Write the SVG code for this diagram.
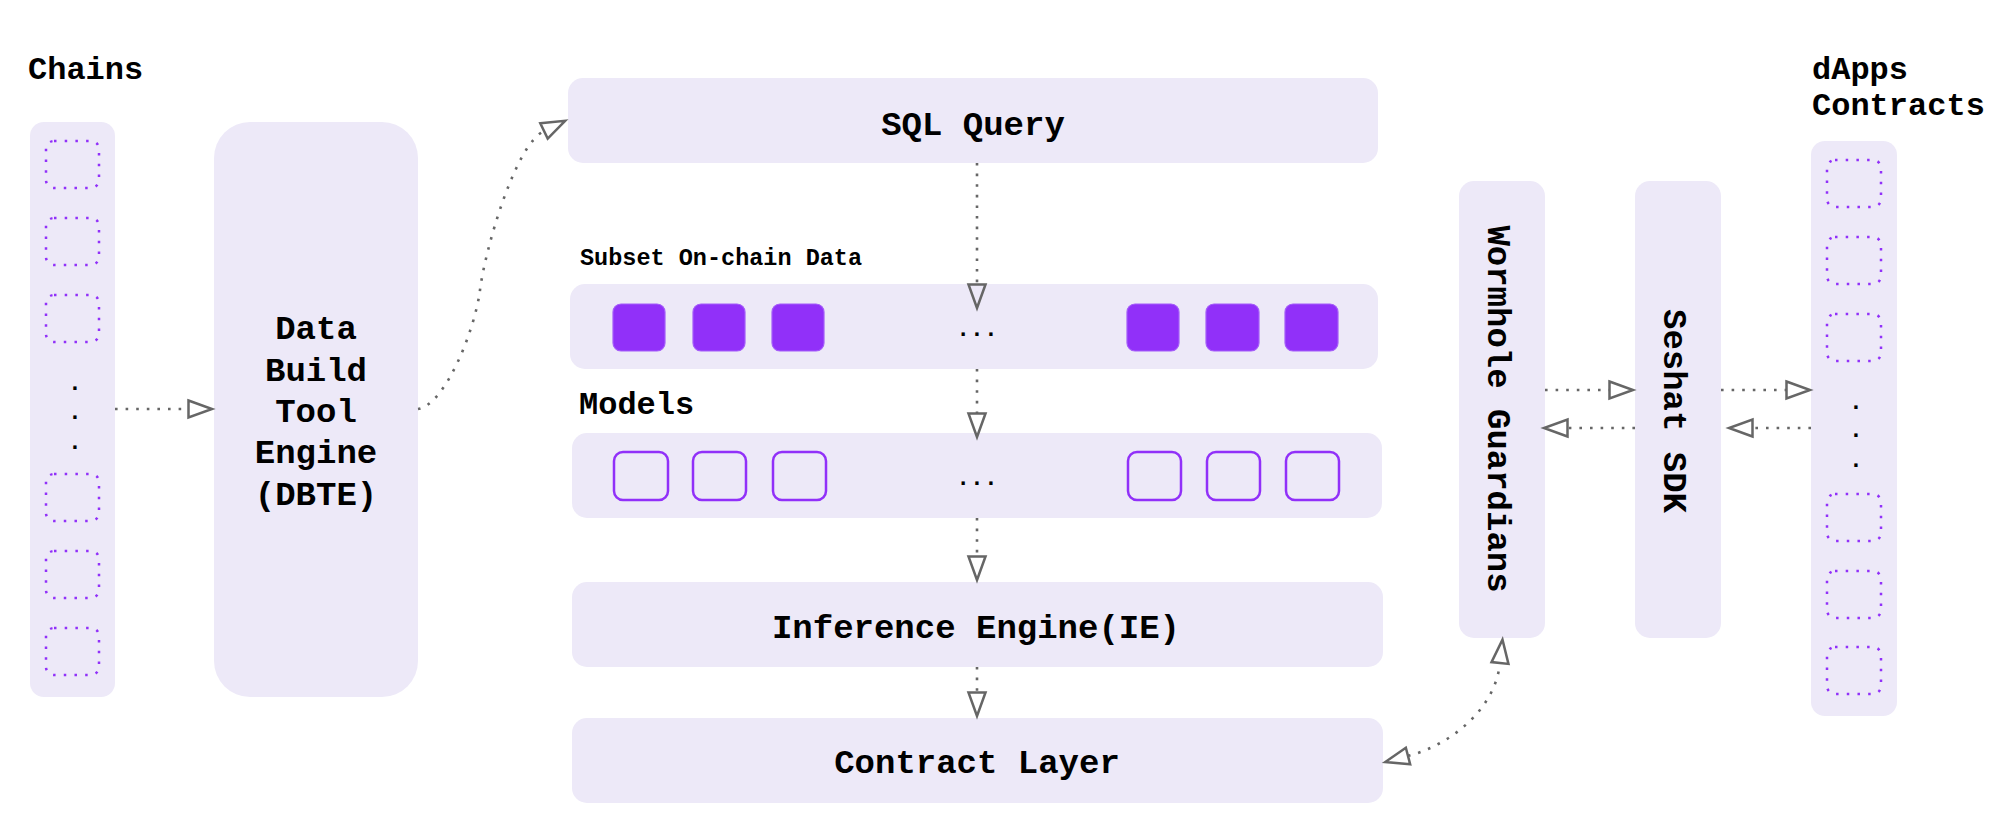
<svg xmlns="http://www.w3.org/2000/svg" width="2010" height="837" viewBox="0 0 2010 837">
<defs>
<style>
.panel{fill:#EDE9F8;}
.lbl{font-family:"Liberation Mono","Courier New",monospace;font-weight:bold;fill:#000;}
.ctr{text-anchor:middle;}
.dsq{fill:none;stroke:#9130F9;stroke-width:2.5;stroke-dasharray:2.5 8.2;}
.fsq{fill:#9130F9;stroke:#A45CF9;stroke-width:1.2;}
.osq{fill:none;stroke:#9130F9;stroke-width:2.5;}
.conn{fill:none;stroke:#666;stroke-width:2.6;stroke-dasharray:2.6 8;}
.dot{font-family:"Liberation Mono","Courier New",monospace;font-size:23px;font-weight:bold;text-anchor:middle;fill:#000;}
</style>
<marker id="arr" markerUnits="userSpaceOnUse" markerWidth="30" markerHeight="24" refX="1.5" refY="10" orient="auto-start-reverse" overflow="visible">
<path d="M1.5,1.5 L25,10 L1.5,18.5 Z" fill="none" stroke="#666" stroke-width="2.5"/>
</marker>
</defs>
<rect width="2010" height="837" fill="#fff"/>

<g id="chains">
<text class="lbl" x="28" y="79" font-size="32">Chains</text>
<rect class="panel" x="30" y="122" width="85" height="575" rx="14"/>
<rect class="dsq" x="46" y="141" width="53" height="47" rx="8"/>
<rect class="dsq" x="46" y="218" width="53" height="47" rx="8"/>
<rect class="dsq" x="46" y="295" width="53" height="47" rx="8"/>
<text class="dot" x="75" y="390">.</text>
<text class="dot" x="75" y="419">.</text>
<text class="dot" x="75" y="449">.</text>
<rect class="dsq" x="46" y="474" width="53" height="47" rx="8"/>
<rect class="dsq" x="46" y="551" width="53" height="47" rx="8"/>
<rect class="dsq" x="46" y="628" width="53" height="47" rx="8"/>
</g>

<g id="dbte">
<rect class="panel" x="214" y="122" width="204" height="575" rx="36"/>
<text class="lbl ctr" font-size="34"><tspan x="316" y="339">Data</tspan><tspan x="316" y="381">Build</tspan><tspan x="316" y="422">Tool</tspan><tspan x="316" y="463">Engine</tspan><tspan x="316" y="505">(DBTE)</tspan></text>
</g>

<g id="sql-query">
<rect class="panel" x="568" y="78" width="810" height="85" rx="15"/>
<text class="lbl ctr" x="973" y="135" font-size="34">SQL Query</text>
</g>

<g id="subset-data">
<text class="lbl" x="580" y="265" font-size="23.5">Subset On-chain Data</text>
<rect class="panel" x="570" y="284" width="808" height="85" rx="15"/>
<rect class="fsq" x="613" y="304" width="52" height="47" rx="8"/>
<rect class="fsq" x="693" y="304" width="52" height="47" rx="8"/>
<rect class="fsq" x="772" y="304" width="52" height="47" rx="8"/>
<text class="dot" x="977" y="336">...</text>
<rect class="fsq" x="1127" y="304" width="52" height="47" rx="8"/>
<rect class="fsq" x="1206" y="304" width="53" height="47" rx="8"/>
<rect class="fsq" x="1285" y="304" width="53" height="47" rx="8"/>
</g>

<g id="models">
<text class="lbl" x="579" y="414" font-size="32">Models</text>
<rect class="panel" x="572" y="433" width="810" height="85" rx="15"/>
<rect class="osq" x="614" y="452" width="54" height="48" rx="9"/>
<rect class="osq" x="693" y="452" width="53" height="48" rx="9"/>
<rect class="osq" x="773" y="452" width="53" height="48" rx="9"/>
<text class="dot" x="977" y="485">...</text>
<rect class="osq" x="1128" y="452" width="53" height="48" rx="9"/>
<rect class="osq" x="1207" y="452" width="53" height="48" rx="9"/>
<rect class="osq" x="1286" y="452" width="53" height="48" rx="9"/>
</g>

<g id="inference-engine">
<rect class="panel" x="572" y="582" width="811" height="85" rx="15"/>
<text class="lbl ctr" x="976" y="638" font-size="34">Inference Engine(IE)</text>
</g>

<g id="contract-layer">
<rect class="panel" x="572" y="718" width="811" height="85" rx="15"/>
<text class="lbl ctr" x="977" y="773" font-size="34">Contract Layer</text>
</g>

<g id="wormhole-guardians">
<rect class="panel" x="1459" y="181" width="86" height="457" rx="15"/>
<text class="lbl ctr" transform="translate(1488 409) rotate(90)" x="0" y="0" font-size="34">Wormhole Guardians</text>
</g>

<g id="seshat-sdk">
<rect class="panel" x="1635" y="181" width="86" height="457" rx="15"/>
<text class="lbl ctr" transform="translate(1664 411) rotate(90)" x="0" y="0" font-size="34">Seshat SDK</text>
</g>

<g id="dapps">
<text class="lbl" font-size="32"><tspan x="1812" y="79">dApps</tspan><tspan x="1812" y="115">Contracts</tspan></text>
<rect class="panel" x="1811" y="141" width="86" height="575" rx="14"/>
<rect class="dsq" x="1827" y="160" width="54" height="47" rx="8"/>
<rect class="dsq" x="1827" y="237" width="54" height="47" rx="8"/>
<rect class="dsq" x="1827" y="314" width="54" height="47" rx="8"/>
<text class="dot" x="1856" y="409">.</text>
<text class="dot" x="1856" y="437">.</text>
<text class="dot" x="1856" y="467">.</text>
<rect class="dsq" x="1827" y="494" width="54" height="47" rx="8"/>
<rect class="dsq" x="1827" y="571" width="54" height="47" rx="8"/>
<rect class="dsq" x="1827" y="647" width="54" height="47" rx="8"/>
</g>

<g id="connectors">
<path class="conn" d="M115,409 L188.5,409" marker-end="url(#arr)"/>
<path class="conn" d="M418,409 C445,405 475,330 480,290 S515,145 544,131" marker-end="url(#arr)"/>
<path class="conn" d="M977,163 L977,284.5" marker-end="url(#arr)"/>
<path class="conn" d="M977,369 L977,413.5" marker-end="url(#arr)"/>
<path class="conn" d="M977,518 L977,556.5" marker-end="url(#arr)"/>
<path class="conn" d="M977,667 L977,692.5" marker-end="url(#arr)"/>
<path class="conn" d="M1545,390 L1609.5,390" marker-end="url(#arr)"/>
<path class="conn" d="M1721,390 L1786.5,390" marker-end="url(#arr)"/>
<path class="conn" d="M1811,428 L1752.5,428" marker-end="url(#arr)"/>
<path class="conn" d="M1635,428 L1567.5,428" marker-end="url(#arr)"/>
<path class="conn" d="M1408,756 C1450,745 1495,710 1500,663" marker-start="url(#arr)" marker-end="url(#arr)"/>
</g>
</svg>
